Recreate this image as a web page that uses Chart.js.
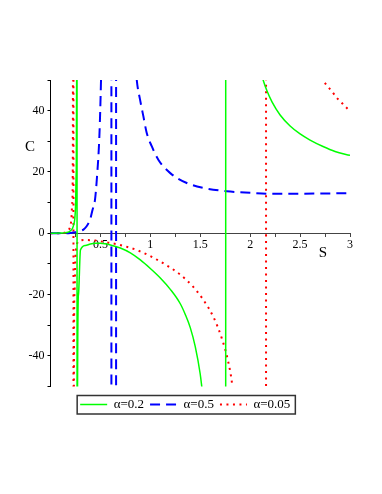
<!DOCTYPE html>
<html>
<head>
<meta charset="utf-8">
<script src="https://cdn.jsdelivr.net/npm/chart.js@4.4.1/dist/chart.umd.min.js"></script>
<style>
  html, body { margin: 0; padding: 0; background: #fff; }
  canvas { display: block; }
</style>
</head>
<body>
<canvas id="chartCanvas" width="382" height="494"></canvas>
<script>
// values (S across, C up)
// +-1000 marks where a branch runs off the plot at an asymptote
const seriesLabels = ["α=0.2", "α=0.5", "α=0.05"];

const sGreen = [0, 0.1, 0.15, 0.2, 0.23, 0.25, 0.258, 0.263, 0.265,
  0.267, 0.27, 0.28, 0.3, 0.35, 0.4, 0.45, 0.5, 0.6, 0.7, 0.8, 0.9, 1.0, 1.1, 1.2, 1.3, 1.35, 1.4, 1.45, 1.5, 1.515, 1.6, 1.7, 1.754,
  1.756, 1.8, 1.85, 1.95, 2.05, 2.13, 2.17, 2.22, 2.3, 2.4, 2.5, 2.6, 2.73, 2.85, 3];
const cGreen = [0, 0.05, 0.2, 0.8, 2.5, 8, 20, 60, 1000,
  -1000, -60, -20, -5.5, -4.0, -3.5, -3.3, -3.3, -3.8, -4.8, -6.4, -8.7, -11.5, -14.6, -18.3, -23, -26.5, -30.8, -37, -46, -50, -75, -140, -1000,
  1000, 300, 140, 80, 60, 50, 46.3, 42.8, 38.6, 35.0, 32.4, 30.4, 28.3, 26.7, 25.4];

const sBlue = [0, 0.1, 0.2, 0.25, 0.3, 0.33, 0.36, 0.396, 0.42, 0.446, 0.466, 0.49, 0.506, 0.53, 0.56, 0.59, 0.609,
  0.611, 0.635, 0.656,
  0.658, 0.7, 0.78, 0.83, 0.864, 0.897, 0.93, 0.964, 1.014, 1.08, 1.197, 1.365, 1.53, 1.766, 2.0, 2.2, 2.5, 2.8, 3];
const cBlue = [0, 0, 0.1, 0.3, 0.8, 1.2, 2.2, 4.4, 7.5, 11, 18.5, 32, 50, 90, 200, 500, 1000,
  -1000, -300, -1000,
  1000, 250, 90, 65, 50, 43.6, 38.2, 32.7, 28.4, 24, 19.7, 16.4, 14.8, 13.7, 13.2, 12.9, 12.9, 13.0, 13.1];

const sRed = [0, 0.1, 0.15, 0.18, 0.2, 0.21, 0.218, 0.224, 0.229,
  0.231, 0.234, 0.24, 0.25, 0.26, 0.28, 0.35, 0.45, 0.55, 0.696, 0.897, 1.097, 1.3, 1.43, 1.53, 1.63, 1.715, 1.78, 1.82, 1.9, 2.0, 2.1, 2.158,
  2.16, 2.2, 2.25, 2.35, 2.45, 2.55, 2.65, 2.75, 2.818, 2.868, 2.934, 3];
const cRed = [0, 0.05, 0.3, 1, 2.5, 5, 10, 30, 1000,
  -1000, -60, -20, -8, -4.5, -2.6, -2.2, -2.4, -2.9, -3.8, -5.9, -9.2, -13.5, -17.5, -21.7, -27.2, -34.2, -41.9, -49.5, -80, -150, -400, -1000,
  1000, 160, 110, 78, 66, 59, 53.5, 49, 46.3, 44.2, 42, 39.8];

const xTickLabels = [0.5, 1, 1.5, 2, 2.5, 3];
const yTickLabels = [-40, -20, 0, 20, 40];

const toPoints = (xs, ys) => xs.map((x, i) => ({ x: x, y: ys[i] }));

const serif = "'Liberation Serif', 'Times New Roman', serif";

// axis names and the frame round the legend
const extras = {
    id: "extras",
    afterLayout(chart) {
        // legend sits a little lower than chart.js puts it
        chart.legend.top += 5.5;
        chart.legend.bottom += 5.5;
    },
    afterDraw(chart) {
        const ctx = chart.ctx;
        ctx.save();
        ctx.fillStyle = "#000";
        ctx.font = "15px " + serif;
        ctx.textAlign = "center";
        ctx.textBaseline = "middle";
        ctx.fillText("S", 323, 253);
        ctx.fillText("C", 30, 147);

        const boxes = chart.legend.legendHitBoxes;
        if (boxes && boxes.length) {
            const first = boxes[0];
            const last = boxes[boxes.length - 1];
            const left = first.left - 3;
            const right = last.left + last.width + 5;
            const top = first.top - 2.5;
            const bottom = first.top + first.height + 3;
            ctx.strokeStyle = "#333";
            ctx.lineWidth = 1.5;
            ctx.strokeRect(left, top, right - left, bottom - top);
        }
        ctx.restore();
    },
};

const ctx = document.getElementById("chartCanvas").getContext("2d");

new Chart(ctx, {
    type: "line",
    data: {
        datasets: [
            {
                label: seriesLabels[0],
                data: toPoints(sGreen, cGreen),
                borderColor: "#00ff00",
                borderWidth: 1.5,
            },
            {
                label: seriesLabels[1],
                data: toPoints(sBlue, cBlue),
                borderColor: "#0000ff",
                borderWidth: 2,
                borderDash: [10, 6],
            },
            {
                label: seriesLabels[2],
                data: toPoints(sRed, cRed),
                borderColor: "#ff0000",
                borderWidth: 2,
                borderDash: [2, 4.5],
            },
        ],
    },
    options: {
        responsive: false,
        animation: false,
        elements: {
            point: { radius: 0 },
            line: { cubicInterpolationMode: "monotone", fill: false },
        },
        layout: {
            padding: { left: 20.5, right: 32, top: 80, bottom: 78.5 },
        },
        scales: {
            x: {
                type: "linear",
                position: { y: 0 },
                min: 0,
                max: 3,
                border: { display: true, color: "#444", width: 1 },
                grid: { drawOnChartArea: false, drawTicks: true, tickLength: 3, color: "#444" },
                ticks: {
                    stepSize: 0.25,
                    autoSkip: false,
                    maxRotation: 0,
                    padding: 1,
                    color: "#000",
                    font: { family: serif, size: 12 },
                    callback: (v) => (xTickLabels.includes(v) ? String(v) : ""),
                },
            },
            y: {
                type: "linear",
                position: "left",
                min: -50,
                max: 50,
                afterFit: (scale) => { scale.width = 30; },
                border: { display: true, color: "#000", width: 1 },
                grid: { drawOnChartArea: false, drawTicks: true, tickLength: 3, color: "#000" },
                ticks: {
                    stepSize: 10,
                    autoSkip: false,
                    padding: 3,
                    color: "#000",
                    font: { family: serif, size: 12 },
                    callback: (v) => (yTickLabels.includes(v) ? String(v) : ""),
                },
            },
        },
        plugins: {
            legend: {
                position: "bottom",
                labels: {
                    usePointStyle: true,
                    pointStyle: "line",
                    pointStyleWidth: 27,
                    padding: 6,
                    color: "#000",
                    font: { family: serif, size: 13 },
                    // point style labels lose the dash, so take it from the dataset
                    generateLabels: (chart) => {
                        const items = Chart.defaults.plugins.legend.labels.generateLabels(chart);
                        return items.map((item, i) => {
                            const ds = chart.data.datasets[i];
                            item.lineDash = ds.borderDash || [];
                            item.lineWidth = ds.borderWidth;
                            item.strokeStyle = ds.borderColor;
                            item.lineCap = "butt";
                            return item;
                        });
                    },
                },
            },
            tooltip: { enabled: false },
        },
    },
    plugins: [extras],
});
</script>
</body>
</html>
